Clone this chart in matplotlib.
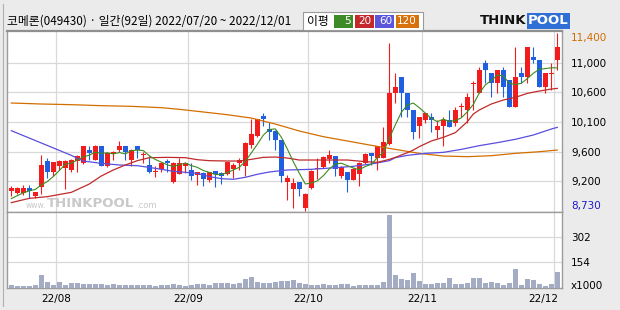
import matplotlib
matplotlib.use("Agg")
import matplotlib.pyplot as plt
import matplotlib.transforms as mtransforms
from matplotlib.patches import Rectangle
import numpy as np
import pandas as pd

# ---------------- data ----------------
title = "코메론(049430) · 일간(92일) 2022/07/20 ~ 2022/12/01"

opens = [9030, 9000, 9000, 9070, 8950, 9090, 9480, 9320, 9410, 9380,
         9340, 9480, 9450, 9650, 9500, 9710, 9400, 9590, 9640, 9700,
         9500, 9710, 9570, 9420, 9310, 9360, 9480, 9160, 9290, 9400,
         9350, 9270, 9300, 9190, 9330, 9300, 9280, 9360, 9450, 9410,
         9720, 9850, 10160, 9960, 9930, 9800, 9170, 9060, 9160, 8780,
         9070, 9360, 9390, 9510, 9560, 9260, 9310, 9200, 9290, 9450,
         9600, 9520, 9530, 9730, 10500, 10750, 10500, 10250, 10000, 10100,
         10150, 9940, 10000, 10100, 10050, 10290, 10250, 10640, 10500, 10950,
         10800, 10650, 10850, 10700, 10300, 10800, 10750, 11050, 11000, 10600,
         10790, 11000]
highs = [9110, 9090, 9120, 9120, 9020, 9570, 9520, 9470, 9490, 9500,
         9510, 9570, 9710, 9700, 9720, 9710, 9610, 9630, 9780, 9710,
         9660, 9710, 9620, 9550, 9410, 9460, 9510, 9460, 9520, 9460,
         9450, 9320, 9310, 9320, 9330, 9320, 9470, 9450, 9520, 9760,
         10110, 10120, 10200, 10060, 9950, 9800, 9270, 9230, 9160, 9000,
         9350, 9520, 9550, 9650, 9560, 9400, 9320, 9370, 9460, 9600,
         9600, 9700, 9990, 11250, 10800, 10750, 10500, 10250, 10150, 10200,
         10200, 10100, 10150, 10250, 10300, 10350, 10500, 10690, 10900, 11000,
         10800, 10850, 10900, 10700, 11200, 10900, 11200, 11200, 11000, 10800,
         10950, 11400]
lows = [8960, 8980, 8970, 8920, 8920, 8990, 9220, 9250, 9350, 9060,
        9320, 9320, 9440, 9500, 9490, 9400, 9390, 9500, 9610, 9500,
        9410, 9520, 9450, 9300, 9240, 9310, 9320, 9150, 9290, 9300,
        9200, 9120, 9110, 9160, 9090, 9130, 9270, 9220, 9350, 9260,
        9670, 9840, 10000, 9800, 9640, 9160, 8900, 8770, 8960, 8730,
        9060, 9210, 9380, 9450, 9260, 9220, 9010, 9190, 9110, 9440,
        9420, 9350, 9530, 9720, 10350, 10150, 10150, 9810, 9830, 10050,
        9910, 9820, 9710, 9990, 10000, 10150, 10050, 10250, 10500, 10650,
        10450, 10500, 10450, 10300, 10300, 10650, 10650, 10950, 10600, 10500,
        10550, 10850]
closes = [9080, 9070, 9080, 9030, 9010, 9420, 9320, 9460, 9480, 9480,
          9500, 9560, 9700, 9600, 9710, 9410, 9600, 9620, 9700, 9610,
          9650, 9650, 9580, 9310, 9330, 9450, 9450, 9450, 9450, 9450,
          9260, 9320, 9210, 9310, 9290, 9260, 9460, 9420, 9500, 9750,
          9880, 10110, 10110, 9920, 9800, 9260, 9220, 9150, 9060, 8990,
          9330, 9380, 9540, 9570, 9360, 9390, 9200, 9360, 9450, 9590,
          9560, 9700, 9760, 10500, 10600, 10500, 10250, 9910, 10150, 10200,
          10100, 10000, 10100, 9990, 10250, 10310, 10450, 10660, 10850, 10850,
          10650, 10850, 10600, 10300, 10750, 10750, 11200, 11000, 10600, 10800,
          10810, 11200]
# volume, in thousands of shares
volumes = [20, 16, 16, 16, 18, 79, 37, 22, 37, 22,
           32, 32, 24, 28, 24, 26, 22, 26, 22, 22,
           22, 18, 22, 22, 14, 20, 20, 24, 18, 12,
           20, 26, 26, 18, 32, 30, 32, 28, 34, 57,
           67, 39, 34, 34, 36, 43, 43, 49, 32, 26,
           20, 20, 26, 20, 20, 26, 26, 14, 20, 20,
           20, 20, 37, 434, 79, 57, 49, 91, 43, 26,
           26, 32, 32, 61, 26, 26, 32, 61, 61, 32,
           37, 32, 20, 32, 114, 20, 55, 49, 26, 14,
           26, 97]
prior_closes = [8850, 8870, 8880, 8900]

# moving averages (session index, price)
ma20_idx = [0, 3, 6, 10, 13, 15, 17, 19, 21, 23, 26, 29, 31, 33, 36, 38, 40, 42,
            44, 46, 48, 52, 56, 59, 61, 63, 64, 65, 66, 67, 68, 70, 72, 74, 76,
            77, 78, 80, 82, 84, 86, 88, 90, 91]
ma20_val = [8855, 8920, 8945, 9010, 9135, 9256, 9346, 9421, 9486, 9531, 9536,
            9531, 9501, 9486, 9481, 9481, 9506, 9536, 9541, 9526, 9496, 9496,
            9496, 9471, 9461, 9506, 9536, 9571, 9606, 9646, 9697, 9782, 9837,
            9907, 10072, 10187, 10248, 10338, 10398, 10438, 10498, 10533, 10563,
            10573]
ma60_idx = [0, 5, 10, 12, 15, 18, 21, 24, 27, 31, 33, 35, 37, 39, 41, 43, 46,
            50, 54, 57, 60, 63, 64, 66, 69, 72, 75, 78, 81, 84, 87, 90, 91]
ma60_val = [9937, 9752, 9566, 9481, 9446, 9421, 9411, 9371, 9326, 9296, 9246,
            9216, 9206, 9236, 9281, 9316, 9346, 9356, 9381, 9401, 9436, 9486,
            9531, 9566, 9596, 9611, 9656, 9712, 9757, 9807, 9872, 9962, 9987]
ma120_idx = [0, 5, 10, 15, 20, 25, 28, 31, 33, 36, 40, 44, 48, 52, 56, 60, 64,
             68, 72, 76, 80, 84, 88, 91]
ma120_val = [10353, 10338, 10328, 10313, 10303, 10283, 10258, 10228, 10208,
             10177, 10127, 10037, 9932, 9847, 9782, 9717, 9656, 9596, 9556,
             9546, 9561, 9596, 9621, 9646]

month_labels = ["22/08", "22/09", "22/10", "22/11", "22/12"]
month_first_idx = [8, 30, 50, 69, 91]

price_ticks = [9185, 9621, 10063, 10514, 10950]
price_tick_labels = ["9,200", "9,600", "10,100", "10,600", "11,000"]
price_max_label, price_min_label = "11,400", "8,730"
vol_ticks = [154, 302]
vol_tick_labels = ["154", "302"]
legend_items = [("5", "#3d8b27"), ("20", "#c5282b"), ("60", "#5b55d9"), ("120", "#d8700b")]

# ---------------- figure ----------------
W, H = 620, 310
BG = "#ebebeb"
RED, BLUE = "#f21c1c", "#1f5fe0"
GRID = "#d9d9d9"
SPINE = "#9c9c9c"
KFONT = ["Noto Sans CJK KR", "DejaVu Sans"]

fig = plt.figure(figsize=(W / 100, H / 100), dpi=100, facecolor=BG)


def rect(l, t, r, b):
    return [l / W, (H - b) / H, (r - l) / W, (b - t) / H]


ax = fig.add_axes(rect(7, 30.7, 562, 212.3))
axv = fig.add_axes(rect(7, 212.3, 562, 288.3))
ov = fig.add_axes([0, 0, 1, 1], zorder=10)
ov.set_xlim(0, W)
ov.set_ylim(H, 0)
ov.axis("off")

n = len(closes)
idx = np.arange(n)
o = np.array(opens, float)
c = np.array(closes, float)
h = np.array(highs, float)
l = np.array(lows, float)
colors = np.where(c >= o, RED, BLUE)

# candles
ax.vlines(idx, l, h, colors=colors, linewidth=0.8, zorder=3)
body_bottom = np.minimum(o, c)
body_h = np.maximum(np.abs(c - o), 18)
ax.bar(idx, body_h, bottom=body_bottom, width=0.82, color=colors, linewidth=0, zorder=4)

# moving averages
ma5 = pd.Series(prior_closes + closes).rolling(5).mean().to_numpy()[len(prior_closes):]
ax.plot(ma120_idx, ma120_val, color="#d26e00", lw=0.9, zorder=5)
ax.plot(ma60_idx, ma60_val, color="#5a4ee0", lw=0.9, zorder=5)
ax.plot(ma20_idx, ma20_val, color="#c02a2a", lw=0.9, zorder=5)
ax.plot(idx, ma5, color="#3c8c1e", lw=0.8, zorder=5)

# volume
axv.bar(idx, volumes, width=0.82, color="#a3acc3", linewidth=0, zorder=3)

xlim = (-0.717, 91.78)
grid_x = [m - 0.5 for m in month_first_idx]
for a in (ax, axv):
    a.set_facecolor("white")
    a.set_xlim(*xlim)
    a.set_xticks(grid_x)
    a.grid(True, color=GRID, lw=0.9)
    a.set_axisbelow(True)
    a.tick_params(length=0)
    for s in a.spines.values():
        s.set_color(SPINE)
        s.set_linewidth(1.0)
ax.spines["top"].set_linewidth(1.6)
ax.spines["top"].set_color("#8f8f8f")

ax.set_ylim(8710, 11440)
ax.set_yticks(price_ticks)
ax.set_yticklabels(price_tick_labels)
ax.set_xticklabels([])
ax.yaxis.tick_right()
ax.tick_params(axis="y", labelsize=7.5, pad=6.5, labelright=True, labelleft=False)

axv.set_ylim(0, 450)
axv.set_yticks(vol_ticks)
axv.set_yticklabels(vol_tick_labels)
axv.yaxis.tick_right()
axv.tick_params(axis="y", labelsize=7.5, pad=6.5, labelright=True, labelleft=False)
axv.set_xticklabels(month_labels)
axv.tick_params(axis="x", labelsize=7.5, pad=4)
xl = axv.get_xticklabels()
xl[-1].set_ha("right")
xl[-1].set_transform(xl[-1].get_transform() +
                     mtransforms.ScaledTranslation(3 / 72, 0, fig.dpi_scale_trans))

tr = mtransforms.blended_transform_factory(ax.transAxes, ax.transData)
xlab = 1 + 9 / 555
ax.text(xlab, max(highs), price_max_label, transform=tr, ha="left", va="top",
        fontsize=7.5, color="#d26e00", clip_on=False)
ax.text(xlab, min(lows), price_min_label, transform=tr, ha="left", va="bottom",
        fontsize=7.5, color="#1a1ad0", clip_on=False)
trv = mtransforms.blended_transform_factory(axv.transAxes, axv.transData)
axv.text(xlab, 14, "x1000", transform=trv, ha="left", va="center", fontsize=7.5,
         clip_on=False)

# watermark inside price panel (behind marks)
wm = "#c9c9c9"
ax.text(46, 205.5, "www.", transform=ov.transData, fontsize=5.5, color=wm,
        ha="right", va="center", zorder=1)
ax.text(47, 203.5, "THINKPOOL", transform=ov.transData, fontsize=9.5, color=wm,
        fontweight="bold", ha="left", va="center", zorder=1)
ax.text(136, 205.5, ".com", transform=ov.transData, fontsize=6, color=wm,
        ha="left", va="center", zorder=1)

# header
ov.text(7, 21, title, fontsize=8.5, family=KFONT, ha="left", va="center")
ov.add_patch(Rectangle((303, 12), 120, 18, facecolor="white", edgecolor="#9a9a9a", lw=0.8))
ov.text(318, 21, "이평", fontsize=8.5, family=KFONT, ha="center", va="center")
bx = 334
for lab, col in legend_items:
    wdt = 19 if len(lab) < 3 else 23
    ov.add_patch(Rectangle((bx, 15), wdt, 13, facecolor=col, edgecolor="none"))
    ov.text(bx + wdt - 2, 21.5, lab, fontsize=7.5, color="white", ha="right", va="center")
    bx += wdt + 1.5
ov.text(480, 21, "THINK", fontsize=9.5, fontweight="bold", color="#111111",
        ha="left", va="center")
ov.text(528, 21, "POOL", fontsize=9.5, fontweight="bold", color="white",
        ha="left", va="center",
        bbox=dict(boxstyle="square,pad=0.1", facecolor="#2f6fd6", edgecolor="none"))

# outer frame line at the left
ov.plot([2.5, 2.5], [4, 306], color="#b0b0b0", lw=0.8)

fig.savefig("out.png", dpi=100, facecolor=BG)
